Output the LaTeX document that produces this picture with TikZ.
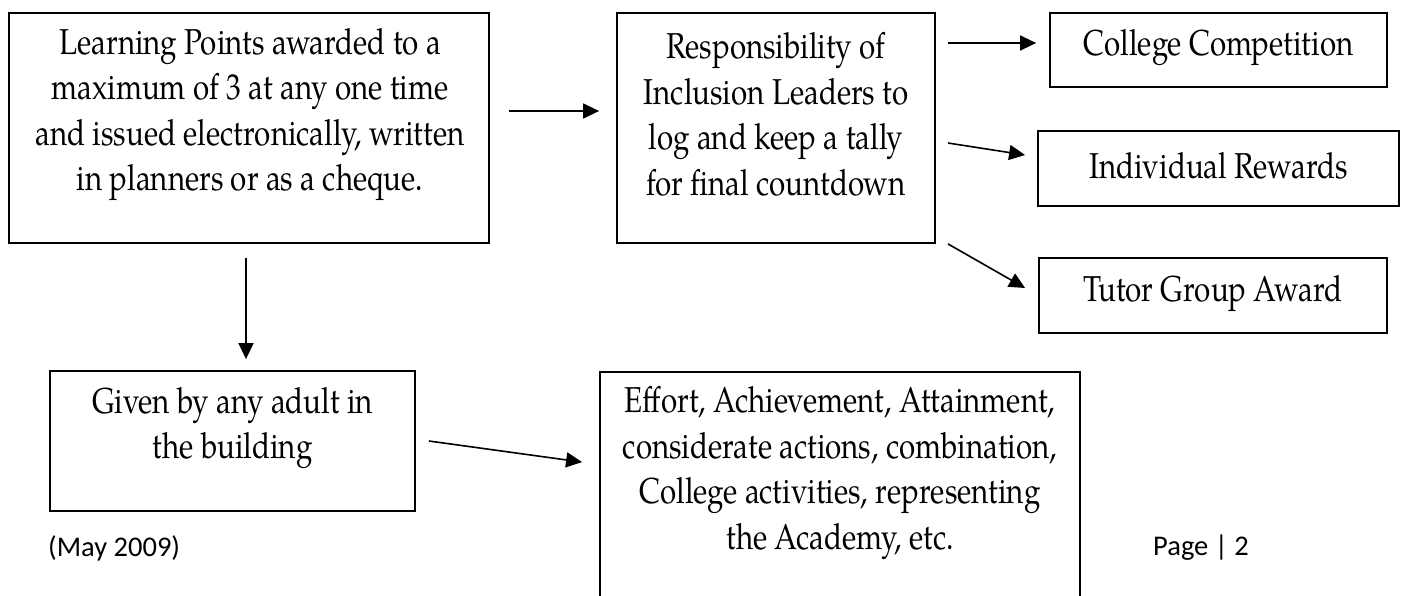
\documentclass[tikz,border=0pt]{standalone}
\usepackage{fontspec}
\setmainfont{TeX Gyre Pagella}[FakeStretch=0.82]
\newfontfamily\calfont{Carlito}
\usetikzlibrary{arrows.meta}
\tikzset{
  box/.style={draw=black, line width=1.8pt, rectangle, inner sep=0pt},
  txt/.style={align=center, font=\fontsize{36}{45.5}\selectfont, inner sep=0pt},
  conn/.style={line width=1.6pt, -{Triangle[length=16pt,width=15pt]}},
  foot/.style={font=\calfont\fontsize{28.5}{32}\selectfont, inner sep=0pt}
}
\begin{document}
\begin{tikzpicture}[x=1pt,y=-1pt]
\useasboundingbox (0,0) rectangle (1407,596);
\clip (0,0) rectangle (1407,596);
% boxes
\node[box, minimum width=480pt, minimum height=230pt] (A) at (249,128) {};
\node[box, minimum width=318pt, minimum height=230pt] (B) at (776,128) {};
\node[box, minimum width=337pt, minimum height=74pt] (C1) at (1218.5,50) {};
\node[box, minimum width=361pt, minimum height=75pt] (C2) at (1218.5,168.5) {};
\node[box, minimum width=348pt, minimum height=75pt] (C3) at (1213,295.5) {};
\node[box, minimum width=365pt, minimum height=140pt] (D) at (232.5,441) {};
\node[box, minimum width=480pt, minimum height=260pt] (E) at (840,502) {};
% texts
\node[txt] (At) at (250,114.5) {Learning Points awarded to a\\maximum of 3 at any one time\\and issued electronically, written\\in planners or as a cheque.};
\node[txt] (Bt) at (776,114.5) {Responsibility of\\Inclusion Leaders to\\log and keep a tally\\for final countdown};
\node[txt] (C1t) at (1218.5,48) {College Competition};
\node[txt] (C2t) at (1218.5,166) {Individual Rewards};
\node[txt] (C3t) at (1213,293) {Tutor Group Award};
\node[txt] (Dt) at (232.5,428) {Given by any adult in\\the building};
\node[txt] (Et) at (840,473) {Effort, Achievement, Attainment,\\considerate actions, combination,\\College activities, representing\\the Academy, etc.};
\node[foot, anchor=west] (may) at (48,548) {(May 2009)};
\node[foot, anchor=west] (page) at (1153,548) {Page | 2};
% connectors
\draw[conn] ([shift={(19,-17)}]A.east) -- ([shift={(-17,-17)}]B.west);
\draw[conn] ([shift={(12,-85)}]B.east) -- ([shift={(-13,-7)}]C1.west);
\draw[conn] ([shift={(12,15)}]B.east) -- ([shift={(-12,-13.5)}]C2.west);
\draw[conn] ([shift={(12,0)}]B.south east) -- ([shift={(-13,-7.5)}]C3.west);
\draw[conn] ([shift={(-3,14)}]A.south) -- ([shift={(13.5,-11)}]D.north);
\draw[conn] ([shift={(13,0)}]D.east) -- ([shift={(-17,91)}]E.north west);
\end{tikzpicture}
\end{document}
